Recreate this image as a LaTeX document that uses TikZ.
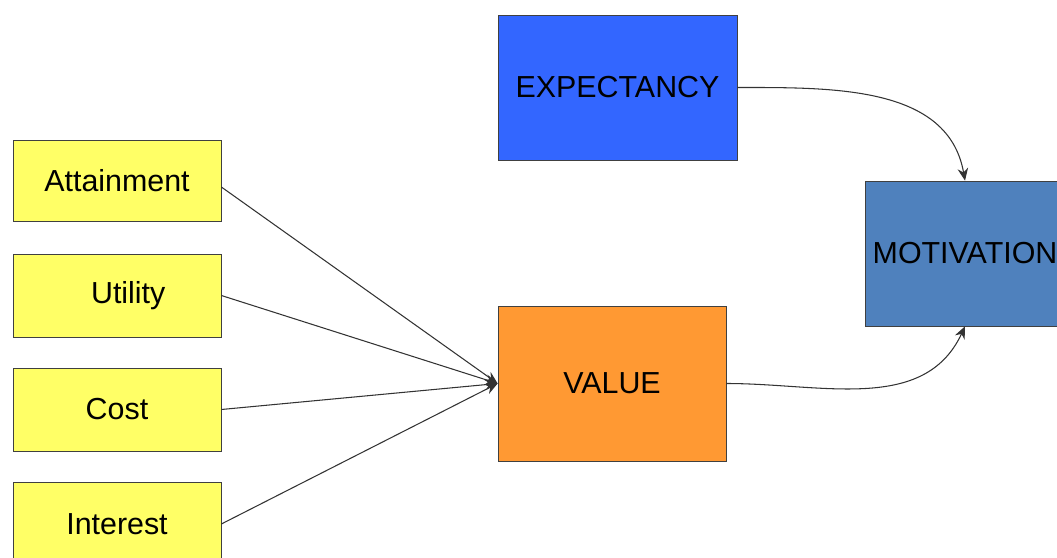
\documentclass[tikz,border=0pt]{standalone}
\usepackage{fontspec}
\setmainfont{Liberation Sans}
\usetikzlibrary{arrows.meta}
\definecolor{boxyellow}{RGB}{255,255,102}
\definecolor{expblue}{RGB}{51,102,255}
\definecolor{valorange}{RGB}{255,153,51}
\definecolor{motblue}{RGB}{79,129,189}
\begin{document}
\begin{tikzpicture}[
    factor/.style={draw=black!75,fill=boxyellow,minimum width=4.16cm,inner sep=0pt},
    bigbox/.style={draw=black!75,inner sep=0pt},
    link/.style={black!80,line width=0.6pt,-{Stealth[length=7pt,width=6pt]}},
    font=\fontsize{17.3}{20}\selectfont]
        \clip (0,0) rectangle (21.14,11.14);
        \node[factor,minimum height=1.62cm] (att) at (2.34,7.53) {Attainment};
        \node[factor,minimum height=1.66cm] (uti) at (2.34,5.23) {\hspace*{0.45cm}Utility};
        \node[factor,minimum height=1.66cm] (cost) at (2.34,2.95) {Cost};
        \node[factor,minimum height=1.68cm] (int) at (2.34,0.66) {Interest};
        \node[bigbox,fill=expblue,minimum width=4.78cm,minimum height=2.90cm] (exp) at (12.35,9.39) {EXPECTANCY};
        \node[bigbox,fill=valorange,minimum width=4.56cm,minimum height=3.10cm] (val) at (12.24,3.47) {VALUE};
        \node[bigbox,fill=motblue,minimum width=4.0cm,minimum height=2.90cm] (mot) at (19.30,6.07) {MOTIVATION};
        \draw[link] ([yshift=-0.13cm]att.east) -- (val.west);
        \draw[link] (uti.east) -- (val.west);
        \draw[link] (cost.east) -- (val.west);
        \draw[link] (int.east) -- (val.west);
        \draw[link] (exp.east) to[out=0,in=100] (mot.north);
        \draw[link] (val.east) to[out=0,in=-115] (mot.south);
\end{tikzpicture}
\end{document}
